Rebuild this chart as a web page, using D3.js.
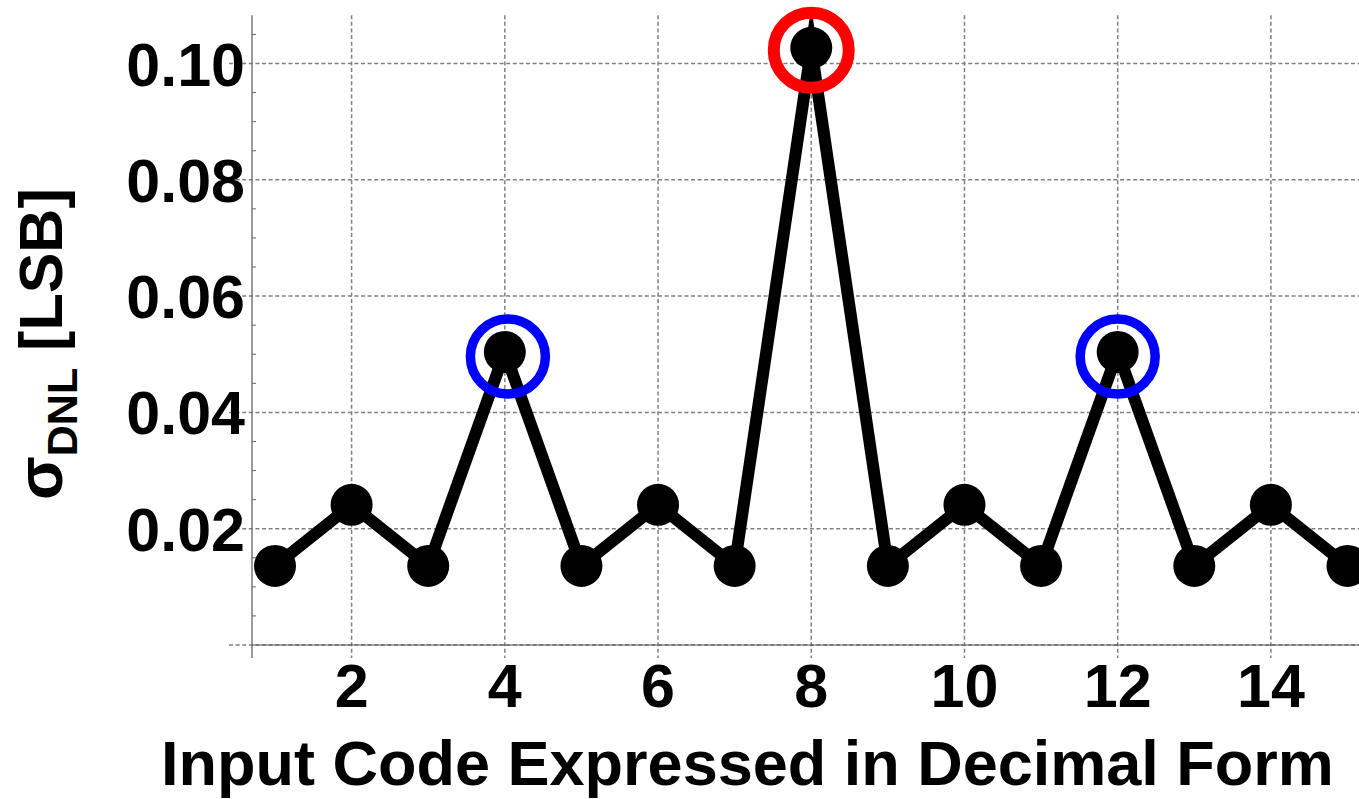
<!DOCTYPE html>
<html>
<head>
<meta charset="utf-8">
<script src="https://cdn.jsdelivr.net/npm/d3@7"></script>
<style>
  html, body { margin: 0; padding: 0; background: #fff; }
  svg { display: block; }
  text { font-family: "Liberation Sans", Arial, sans-serif; font-weight: bold; fill: #000; }
</style>
</head>
<body>
<svg id="chart" width="1359" height="799"></svg>
<script>
// Input codes and the standard deviation of DNL per code (LSB)
const codes = [1, 2, 3, 4, 5, 6, 7, 8, 9, 10, 11, 12, 13, 14, 15];
const sigmaDNL = [0.0136, 0.0241, 0.0136, 0.0504, 0.0136, 0.0241, 0.0136, 0.1027,
                  0.0136, 0.0241, 0.0136, 0.0504, 0.0136, 0.0241, 0.0136];

// Highlight rings around the major-carry codes
const ringCodes = [4.04, 8, 12];
const ringValues = [0.0496, 0.1023, 0.0496];
const ringColors = ["#0000ff", "#ff0000", "#0000ff"];
const ringWidths = [9.5, 12, 9.5];

// Tick values
const xTicks = [2, 4, 6, 8, 10, 12, 14];
const yTicks = [0, 0.02, 0.04, 0.06, 0.08, 0.10];
const yMinorTicks = [0.005, 0.01, 0.015, 0.025, 0.03, 0.035, 0.045, 0.05, 0.055,
                     0.065, 0.07, 0.075, 0.085, 0.09, 0.095, 0.105];

const svg = d3.select("#chart");
const W = 1359, H = 799;

const x = d3.scaleLinear().domain([1, 15]).range([275, 1347.5]);
const y = d3.scaleLinear().domain([0, 0.10]).range([645, 63.5]);

const plotLeft = x(0.7), plotRight = W, plotTop = y(0.1083), plotBottom = y(0);
const gridLeft = plotLeft - 23, gridBottom = plotBottom + 13;

// Clip region for the data line
svg.append("defs").append("clipPath").attr("id", "plotClip")
  .append("rect")
  .attr("x", plotLeft).attr("y", plotTop)
  .attr("width", plotRight - plotLeft).attr("height", H - plotTop);

// Dashed grid
const grid = svg.append("g")
  .attr("stroke", "#808080").attr("stroke-width", 1.5)
  .attr("stroke-dasharray", "4,2.6").attr("fill", "none");
grid.selectAll("line.h").data(yTicks).join("line").attr("class", "h")
  .attr("x1", gridLeft).attr("x2", plotRight)
  .attr("y1", d => y(d)).attr("y2", d => y(d));
grid.selectAll("line.v").data(xTicks).join("line").attr("class", "v")
  .attr("x1", d => x(d)).attr("x2", d => x(d))
  .attr("y1", plotTop).attr("y2", gridBottom);

// Axis lines
svg.append("line")
  .attr("x1", plotLeft).attr("x2", plotLeft)
  .attr("y1", plotTop).attr("y2", gridBottom)
  .attr("stroke", "#666").attr("stroke-width", 1.3);
svg.append("line")
  .attr("x1", plotLeft).attr("x2", plotRight)
  .attr("y1", plotBottom).attr("y2", plotBottom)
  .attr("stroke", "#555").attr("stroke-width", 1);

// Minor ticks on the value axis
svg.append("g").selectAll("line").data(yMinorTicks).join("line")
  .attr("x1", plotLeft).attr("x2", plotLeft + 4)
  .attr("y1", d => y(d)).attr("y2", d => y(d))
  .attr("stroke", "#666").attr("stroke-width", 1);

// Tick labels
svg.append("g").selectAll("text").data(yTicks.filter(d => d > 0)).join("text")
  .attr("x", 245).attr("y", d => y(d) + 22)
  .attr("text-anchor", "end").attr("font-size", 61)
  .text(d => d3.format(".2f")(d));
svg.append("g").selectAll("text").data(xTicks).join("text")
  .attr("x", d => x(d)).attr("y", 707)
  .attr("text-anchor", "middle").attr("font-size", 61)
  .text(d => d);

// Axis titles
svg.append("text")
  .attr("x", 747.5).attr("y", 785)
  .attr("text-anchor", "middle").attr("font-size", 63)
  .text("Input Code Expressed in Decimal Form");

const yt = svg.append("text")
  .attr("transform", "translate(62,500) rotate(-90)")
  .attr("font-size", 61);
yt.append("tspan").attr("font-size", 64).text("σ");
yt.append("tspan").attr("font-size", 43).attr("dy", 15).text("DNL");
yt.append("tspan").attr("dy", -15).text(" [LSB]");

// Data line and markers
const pts = codes.map((c, i) => [c, sigmaDNL[i]]);
svg.append("path")
  .datum(pts)
  .attr("clip-path", "url(#plotClip)")
  .attr("d", d3.line().x(d => x(d[0])).y(d => y(d[1])))
  .attr("fill", "none").attr("stroke", "#000")
  .attr("stroke-width", 12).attr("stroke-linejoin", "miter")
  .attr("stroke-miterlimit", 10);
svg.append("g").selectAll("circle").data(pts).join("circle")
  .attr("cx", d => x(d[0])).attr("cy", d => y(d[1])).attr("r", 21)
  .attr("fill", "#000");

// Highlight rings
svg.append("g").selectAll("circle").data(ringCodes).join("circle")
  .attr("cx", d => x(d)).attr("cy", (d, i) => y(ringValues[i]))
  .attr("r", 37.5).attr("fill", "none")
  .attr("stroke", (d, i) => ringColors[i])
  .attr("stroke-width", (d, i) => ringWidths[i]);
</script>
</body>
</html>
